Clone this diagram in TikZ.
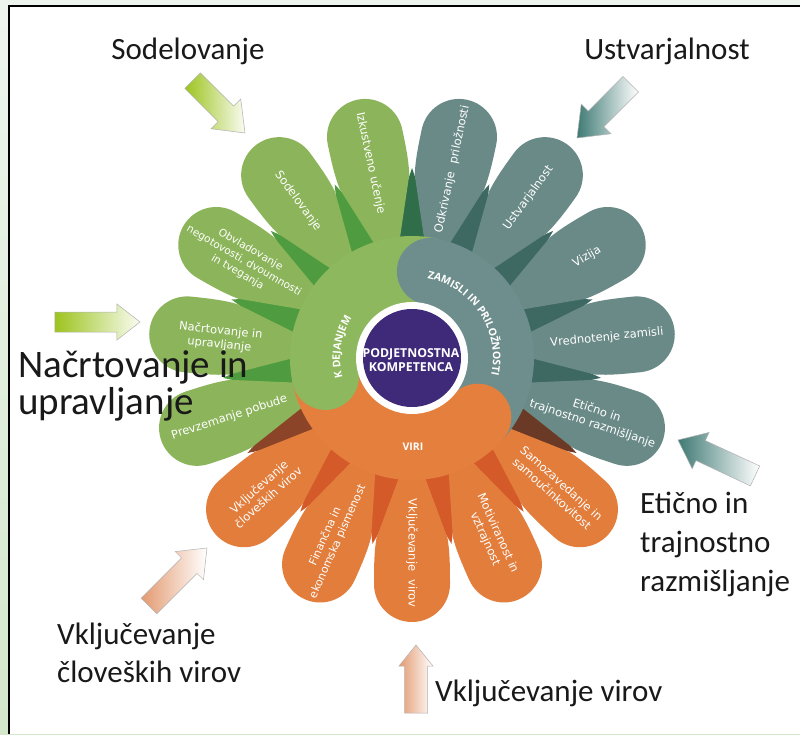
\documentclass[tikz,border=0pt]{standalone}
\usepackage{fontspec}
\usetikzlibrary{calc,decorations.text}
\newfontfamily\calib{Carlito}
\newfontfamily\petalfont{DejaVu Sans}
\newfontfamily\opensans{Open Sans}
\definecolor{gP}{HTML}{8CB55B}
\definecolor{tP}{HTML}{6A8A88}
\definecolor{oP}{HTML}{E27D3B}
\definecolor{gR}{HTML}{8DB85E}
\definecolor{tR}{HTML}{6E8E8D}
\definecolor{oR}{HTML}{E47F3D}
\definecolor{dGG}{HTML}{4F9B3F}
\definecolor{dGT}{HTML}{2F6E49}
\definecolor{dTT}{HTML}{3E6862}
\definecolor{dTO}{HTML}{6A3A26}
\definecolor{dOO}{HTML}{D45A2A}
\definecolor{dOG}{HTML}{8B4427}
\definecolor{purp}{HTML}{3F2A7A}
\definecolor{bgtop}{HTML}{EEF5EE}
\definecolor{bgbot}{HTML}{D3E7CB}
\definecolor{agreen}{HTML}{9DC41E}
\definecolor{ateal}{HTML}{3F7A74}
\definecolor{aorange}{HTML}{E39A70}
\newcommand\petalshape[2]{\begin{scope}[rotate=#1]\fill[#2] (106,-8) -- (180,-35.5) .. controls (195,-38) and (210,-38) .. (226,-38) arc[start angle=-90,end angle=90,radius=38] .. controls (210,38) and (195,38) .. (180,35.5) -- (106,8) -- cycle;\end{scope}}
\newcommand\sepalshape[2]{\begin{scope}[rotate=#1]\fill[#2] (112,-26) -- (190,0) -- (112,26) -- cycle;\end{scope}}
% #1 name, #2 tip, #3 angle, #4 length, #5 shaft half, #6 head half, #7 head length, #8 left colour, #9 right colour
\newcommand\blockarrow[9]{%
  \coordinate (#1) at #2;
  \shade[left color=#8, right color=#9, draw=black!30, line width=0.5pt]
   (#1) -- ($(#1)+(#3+180:#7)+(#3+90:#6)$) -- ($(#1)+(#3+180:#7)+(#3+90:#5)$)
   -- ($(#1)+(#3+180:#4)+(#3+90:#5)$) -- ($(#1)+(#3+180:#4)+(#3-90:#5)$)
   -- ($(#1)+(#3+180:#7)+(#3-90:#5)$) -- ($(#1)+(#3+180:#7)+(#3-90:#6)$) -- cycle;}
\tikzset{
  biglab/.style={font=\calib\fontsize{31}{37}\selectfont, text=black!90, inner sep=0pt, anchor=base west},
  bigcent/.style={font=\calib\fontsize{31}{37}\selectfont, text=black!90, inner sep=0pt, anchor=base},
  hugelab/.style={font=\calib\fontsize{39}{44}\selectfont, text=black!90, inner sep=0pt, anchor=base west},
  pet/.style={font=\petalfont\fontsize{11.5}{14}\selectfont, text=white, align=center, inner sep=0pt},
  ringlab/.style={font=\opensans\bfseries\fontsize{10.5}{12}\selectfont, text=white, inner sep=0pt},
  centlab/.style={font=\opensans\bfseries\fontsize{12.3}{14}\selectfont, text=white, align=center, inner sep=0pt}
}
\begin{document}
\begin{tikzpicture}[x=1pt,y=1pt]
\useasboundingbox (-412,-376) rectangle (388,358);
% background and frame
\shade[top color=bgtop, bottom color=bgbot] (-412,-376) rectangle (388,358);
\fill[white] (-403,-376) rectangle (388,352);
\draw[line width=1.6pt, black] (-403,-376) -- (-403,352) -- (388,352);
% sepals
\sepalshape{282}{dOO}
\sepalshape{306}{dOO}
\sepalshape{330}{dTO}
\sepalshape{354}{dTT}
\sepalshape{18}{dTT}
\sepalshape{42}{dTT}
\sepalshape{66}{dTT}
\sepalshape{90}{dGT}
\sepalshape{114}{dGG}
\sepalshape{138}{dGG}
\sepalshape{162}{dGG}
\sepalshape{186}{dGG}
\sepalshape{210}{dOG}
\sepalshape{234}{dOO}
\sepalshape{258}{dOO}
% petals
\petalshape{270}{oP}
\petalshape{294}{oP}
\petalshape{318}{oP}
\petalshape{342}{tP}
\petalshape{6}{tP}
\petalshape{30}{tP}
\petalshape{54}{tP}
\petalshape{78}{tP}
\petalshape{102}{gP}
\petalshape{126}{gP}
\petalshape{150}{gP}
\petalshape{174}{gP}
\petalshape{198}{gP}
\petalshape{222}{oP}
\petalshape{246}{oP}
% ring
\fill[gR] (0,0) -- (78:122) arc[start angle=78,end angle=192,radius=122] -- cycle;
\fill[oR] (0,0) -- (192:122) arc[start angle=192,end angle=318,radius=122] -- cycle;
\fill[tR] (0,0) -- (318:122) arc[start angle=318,end angle=438,radius=122] -- cycle;
\fill[tR] (78:88.5) circle[radius=33.5];
\fill[gR] (192:88.5) circle[radius=33.5];
\fill[oR] (318:88.5) circle[radius=33.5];
\fill[white] (0,0) circle[radius=56];
\fill[purp] (0,0) circle[radius=49];
% centre and ring labels
\node[centlab] (pk) at (-1,-2) {PODJETNOSTNA\\KOMPETENCA};
\node[ringlab] (viri) at (1,-89) {VIRI};
\path[decorate, decoration={text along path, text align=center, text color=white,
  text={|\opensans\bfseries\fontsize{10.5}{12}\selectfont|ZAMISLI IN PRILOŽNOSTI}}]
  (103.5:81) arc[start angle=103.5, end angle=-36.5, radius=81];
\path[decorate, decoration={text along path, text align=center, text color=white,
  text={|\opensans\bfseries\fontsize{10.5}{12}\selectfont|K DEJANJEM}}]
  (216:72) arc[start angle=216, end angle=126, radius=72];
% petal texts
\node[pet, rotate=-90] (p270) at (270:195) {Vključevanje\hspace{0.35em} virov};
\node[pet, rotate=-66] (p294) at (294:195) {Motiviranost in\\vztrajnost};
\node[pet, rotate=-42] (p318) at (318:195) {Samozavedanje in\\samoučinkovitost};
\node[pet, rotate=-18] (p342) at (342:192) {Etično in\\trajnostno razmišljanje};
\node[pet, rotate=6] (p6) at (6:196) {Vrednotenje zamisli};
\node[pet, rotate=30] (p30) at (30:202) {Vizija};
\node[pet, rotate=54] (p54) at (54:198) {Ustvarjalnost};
\node[pet, rotate=78] (p78) at (78:193) {Odkrivanje\hspace{0.35em} priložnosti};
\node[pet, rotate=-78] (p102) at (102:199) {Izkustveno učenje};
\node[pet, rotate=-54] (p126) at (126:194) {Sodelovanje};
\node[pet, rotate=-30, font=\petalfont\fontsize{10.5}{13}\selectfont] (p150) at (150:194) {Obvladovanje\\negotovosti, dvoumnosti\\in tveganja};
\node[pet, rotate=-6] (p174) at (174:193) {Načrtovanje in\\upravljanje};
\node[pet, rotate=18] (p198) at (198:192) {Prevzemanje pobude};
\node[pet, rotate=42] (p222) at (222:200) {Vključevanje\\človeških virov};
\node[pet, rotate=66, font=\petalfont\fontsize{11}{13.5}\selectfont] (p246) at (246:198) {Finančna in\\ekonomska pismenost};
% arrows (horizontal gradients, left colour to right colour)
\blockarrow{aSod}{(-167,225)}{-45}{74}{11}{21}{27}{agreen}{white!94!agreen}
\blockarrow{aUst}{(165,220)}{-135}{76}{11}{21}{27}{ateal}{white}
\blockarrow{aNac}{(-272,36)}{0}{85}{10}{18}{23}{agreen}{white!94!agreen}
\blockarrow{aEti}{(266,-82)}{155}{85}{11}{20}{25}{ateal}{white}
\blockarrow{aClo}{(-205,-190)}{45}{82}{11}{20}{25}{aorange}{white}
\blockarrow{aVir}{(4,-287)}{90}{68}{11.5}{17}{21}{aorange}{white}
% outer labels
\node[bigcent] (lSod) at (-224,298) {Sodelovanje};
\node[bigcent] (lUst) at (255,298) {Ustvarjalnost};
\node[hugelab] (lNac1) at (-394,-19) {Načrtovanje in};
\node[hugelab] (lNac2) at (-394,-56) {upravljanje};
\node[biglab] (lEti1) at (228,-155) {Etično in};
\node[biglab] (lEti2) at (228,-194) {trajnostno};
\node[biglab] (lEti3) at (228,-233) {razmišljanje};
\node[biglab] (lClo1) at (-355,-286) {Vključevanje};
\node[biglab] (lClo2) at (-355,-324) {človeških virov};
\node[biglab] (lVir) at (23,-343) {Vključevanje virov};
\end{tikzpicture}
\end{document}
